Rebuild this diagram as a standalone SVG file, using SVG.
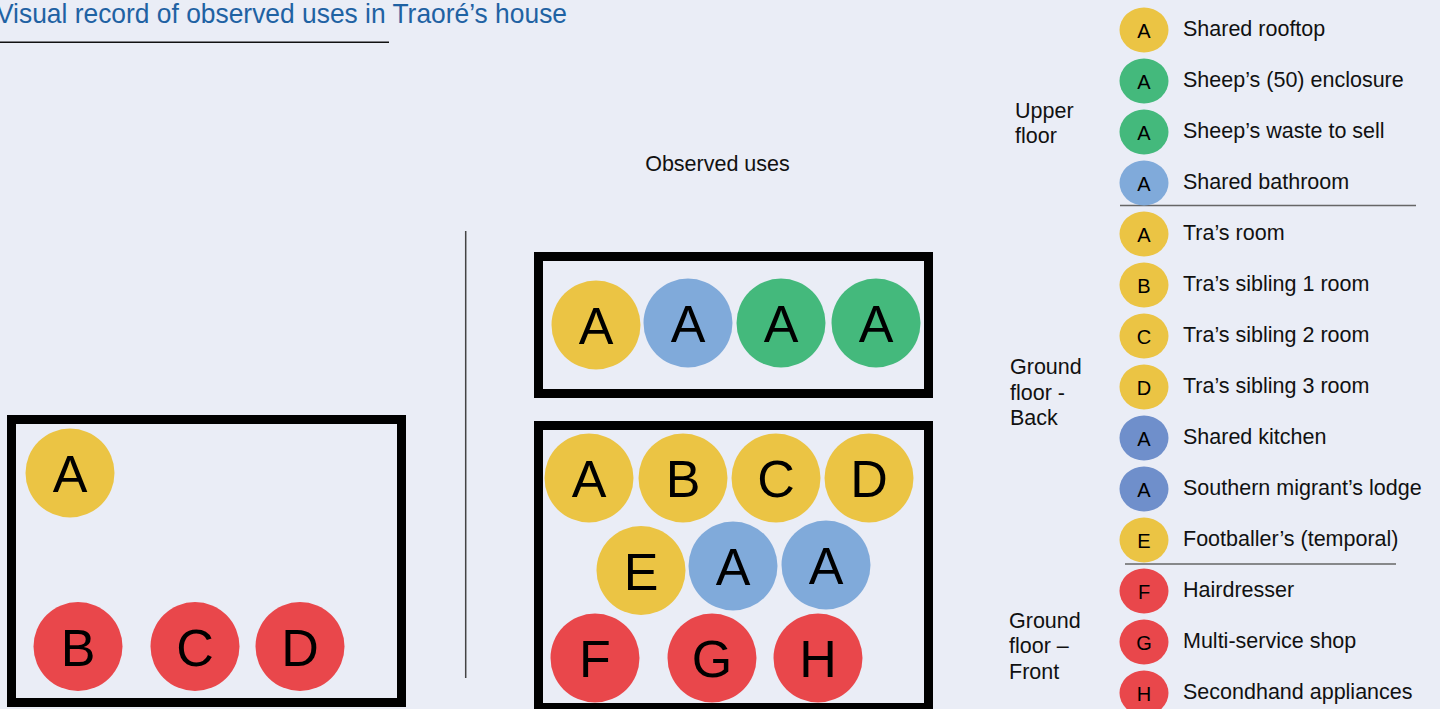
<svg xmlns="http://www.w3.org/2000/svg" width="1440" height="709" viewBox="0 0 1440 709">
<style>
.bg{fill:#eaedf6}
.room{fill:none;stroke:#000;stroke-width:9}
.y{fill:#ebc444}.g{fill:#44b97c}.b{fill:#80aada}.k{fill:#6f8fcb}.r{fill:#e9474b}
.big{font-family:"Liberation Sans",Arial,sans-serif;font-size:52px;fill:#000;text-anchor:middle}
.sm{font-family:"Liberation Sans",Arial,sans-serif;font-size:20px;fill:#000;text-anchor:middle}
.lt{font-family:"Liberation Sans",Arial,sans-serif;font-size:21.5px;fill:#111}
.sep{stroke:#666;stroke-width:1.5}
</style>
<rect class="bg" x="0" y="0" width="1440" height="709"/>
<g id="title">
<text x="-4" y="23" font-family="'Liberation Sans Narrow','Liberation Sans',sans-serif" font-size="28" fill="#1f62a3" textLength="571" lengthAdjust="spacingAndGlyphs">Visual record of observed uses in Traoré’s house</text>
<line x1="0" y1="42.3" x2="389" y2="42.3" stroke="#111" stroke-width="1.5"/>
</g>
<g id="divider">
<line x1="465.7" y1="231" x2="465.7" y2="678" stroke="#444" stroke-width="1.5"/>
</g>
<g id="observed-label">
<text class="lt" x="717.5" y="171" text-anchor="middle">Observed uses</text>
</g>
<g id="left-plan">
<rect class="room" x="11.5" y="419.5" width="390" height="283"/>
<circle class="y" cx="70" cy="473" r="44.5"/><text class="big" x="70" y="492">A</text>
<circle class="r" cx="78" cy="646.5" r="44.5"/><text class="big" x="78" y="665.5">B</text>
<circle class="r" cx="195" cy="646.5" r="44.5"/><text class="big" x="195" y="665.5">C</text>
<circle class="r" cx="300" cy="646.5" r="44.5"/><text class="big" x="300" y="665.5">D</text>
</g>
<g id="upper-floor">
<rect class="room" x="538.5" y="256.5" width="390" height="137"/>
<circle class="y" cx="596" cy="325" r="44.5"/><text class="big" x="596" y="344">A</text>
<circle class="b" cx="688" cy="323" r="44.5"/><text class="big" x="688" y="342">A</text>
<circle class="g" cx="781" cy="323" r="44.5"/><text class="big" x="781" y="342">A</text>
<circle class="g" cx="876" cy="323" r="44.5"/><text class="big" x="876" y="342">A</text>
</g>
<g id="ground-floor">
<rect class="room" x="538.5" y="425.5" width="390" height="282"/>
<circle class="y" cx="589" cy="478" r="44.5"/><text class="big" x="589" y="497">A</text>
<circle class="y" cx="683" cy="478" r="44.5"/><text class="big" x="683" y="497">B</text>
<circle class="y" cx="776" cy="478" r="44.5"/><text class="big" x="776" y="497">C</text>
<circle class="y" cx="869" cy="478" r="44.5"/><text class="big" x="869" y="497">D</text>
<circle class="y" cx="641" cy="570.5" r="44.5"/><text class="big" x="641" y="589.5">E</text>
<circle class="b" cx="733" cy="566" r="44.5"/><text class="big" x="733" y="585">A</text>
<circle class="b" cx="826" cy="565" r="44.5"/><text class="big" x="826" y="584">A</text>
<circle class="r" cx="595" cy="658" r="44.5"/><text class="big" x="595" y="677">F</text>
<circle class="r" cx="712" cy="658" r="44.5"/><text class="big" x="712" y="677">G</text>
<circle class="r" cx="818" cy="658" r="44.5"/><text class="big" x="818" y="677">H</text>
</g>
<g id="legend-groups">
<text class="lt" x="1015" y="118">Upper</text>
<text class="lt" x="1015" y="143">floor</text>
<text class="lt" x="1010" y="374">Ground</text>
<text class="lt" x="1010" y="400">floor -</text>
<text class="lt" x="1010" y="425">Back</text>
<text class="lt" x="1009" y="628">Ground</text>
<text class="lt" x="1009" y="653">floor –</text>
<text class="lt" x="1009" y="679">Front</text>
<line class="sep" x1="1120" y1="205.5" x2="1416" y2="205.5"/>
<line class="sep" x1="1125" y1="564" x2="1396" y2="564"/>
</g>
<g id="legend">
<ellipse class="y" cx="1144" cy="30" rx="24.5" ry="22.5"/><text class="sm" x="1144" y="37.5">A</text><text class="lt" x="1183" y="35.5">Shared rooftop</text>
<ellipse class="g" cx="1144" cy="81" rx="24.5" ry="22.5"/><text class="sm" x="1144" y="88.5">A</text><text class="lt" x="1183" y="86.5">Sheep’s (50) enclosure</text>
<ellipse class="g" cx="1144" cy="132" rx="24.5" ry="22.5"/><text class="sm" x="1144" y="139.5">A</text><text class="lt" x="1183" y="137.5">Sheep’s waste to sell</text>
<ellipse class="b" cx="1144" cy="183" rx="24.5" ry="22.5"/><text class="sm" x="1144" y="190.5">A</text><text class="lt" x="1183" y="188.5">Shared bathroom</text>
<ellipse class="y" cx="1144" cy="234" rx="24.5" ry="22.5"/><text class="sm" x="1144" y="241.5">A</text><text class="lt" x="1183" y="239.5">Tra’s room</text>
<ellipse class="y" cx="1144" cy="285" rx="24.5" ry="22.5"/><text class="sm" x="1144" y="292.5">B</text><text class="lt" x="1183" y="290.5">Tra’s sibling 1 room</text>
<ellipse class="y" cx="1144" cy="336" rx="24.5" ry="22.5"/><text class="sm" x="1144" y="343.5">C</text><text class="lt" x="1183" y="341.5">Tra’s sibling 2 room</text>
<ellipse class="y" cx="1144" cy="387" rx="24.5" ry="22.5"/><text class="sm" x="1144" y="394.5">D</text><text class="lt" x="1183" y="392.5">Tra’s sibling 3 room</text>
<ellipse class="k" cx="1144" cy="438" rx="24.5" ry="22.5"/><text class="sm" x="1144" y="445.5">A</text><text class="lt" x="1183" y="443.5">Shared kitchen</text>
<ellipse class="k" cx="1144" cy="489" rx="24.5" ry="22.5"/><text class="sm" x="1144" y="496.5">A</text><text class="lt" x="1183" y="494.5">Southern migrant’s lodge</text>
<ellipse class="y" cx="1144" cy="540" rx="24.5" ry="22.5"/><text class="sm" x="1144" y="547.5">E</text><text class="lt" x="1183" y="545.5">Footballer’s (temporal)</text>
<ellipse class="r" cx="1144" cy="591" rx="24.5" ry="22.5"/><text class="sm" x="1144" y="598.5">F</text><text class="lt" x="1183" y="596.5">Hairdresser</text>
<ellipse class="r" cx="1144" cy="642" rx="24.5" ry="22.5"/><text class="sm" x="1144" y="649.5">G</text><text class="lt" x="1183" y="647.5">Multi-service shop</text>
<ellipse class="r" cx="1144" cy="693" rx="24.5" ry="22.5"/><text class="sm" x="1144" y="700.5">H</text><text class="lt" x="1183" y="698.5">Secondhand appliances</text>
</g>
</svg>
